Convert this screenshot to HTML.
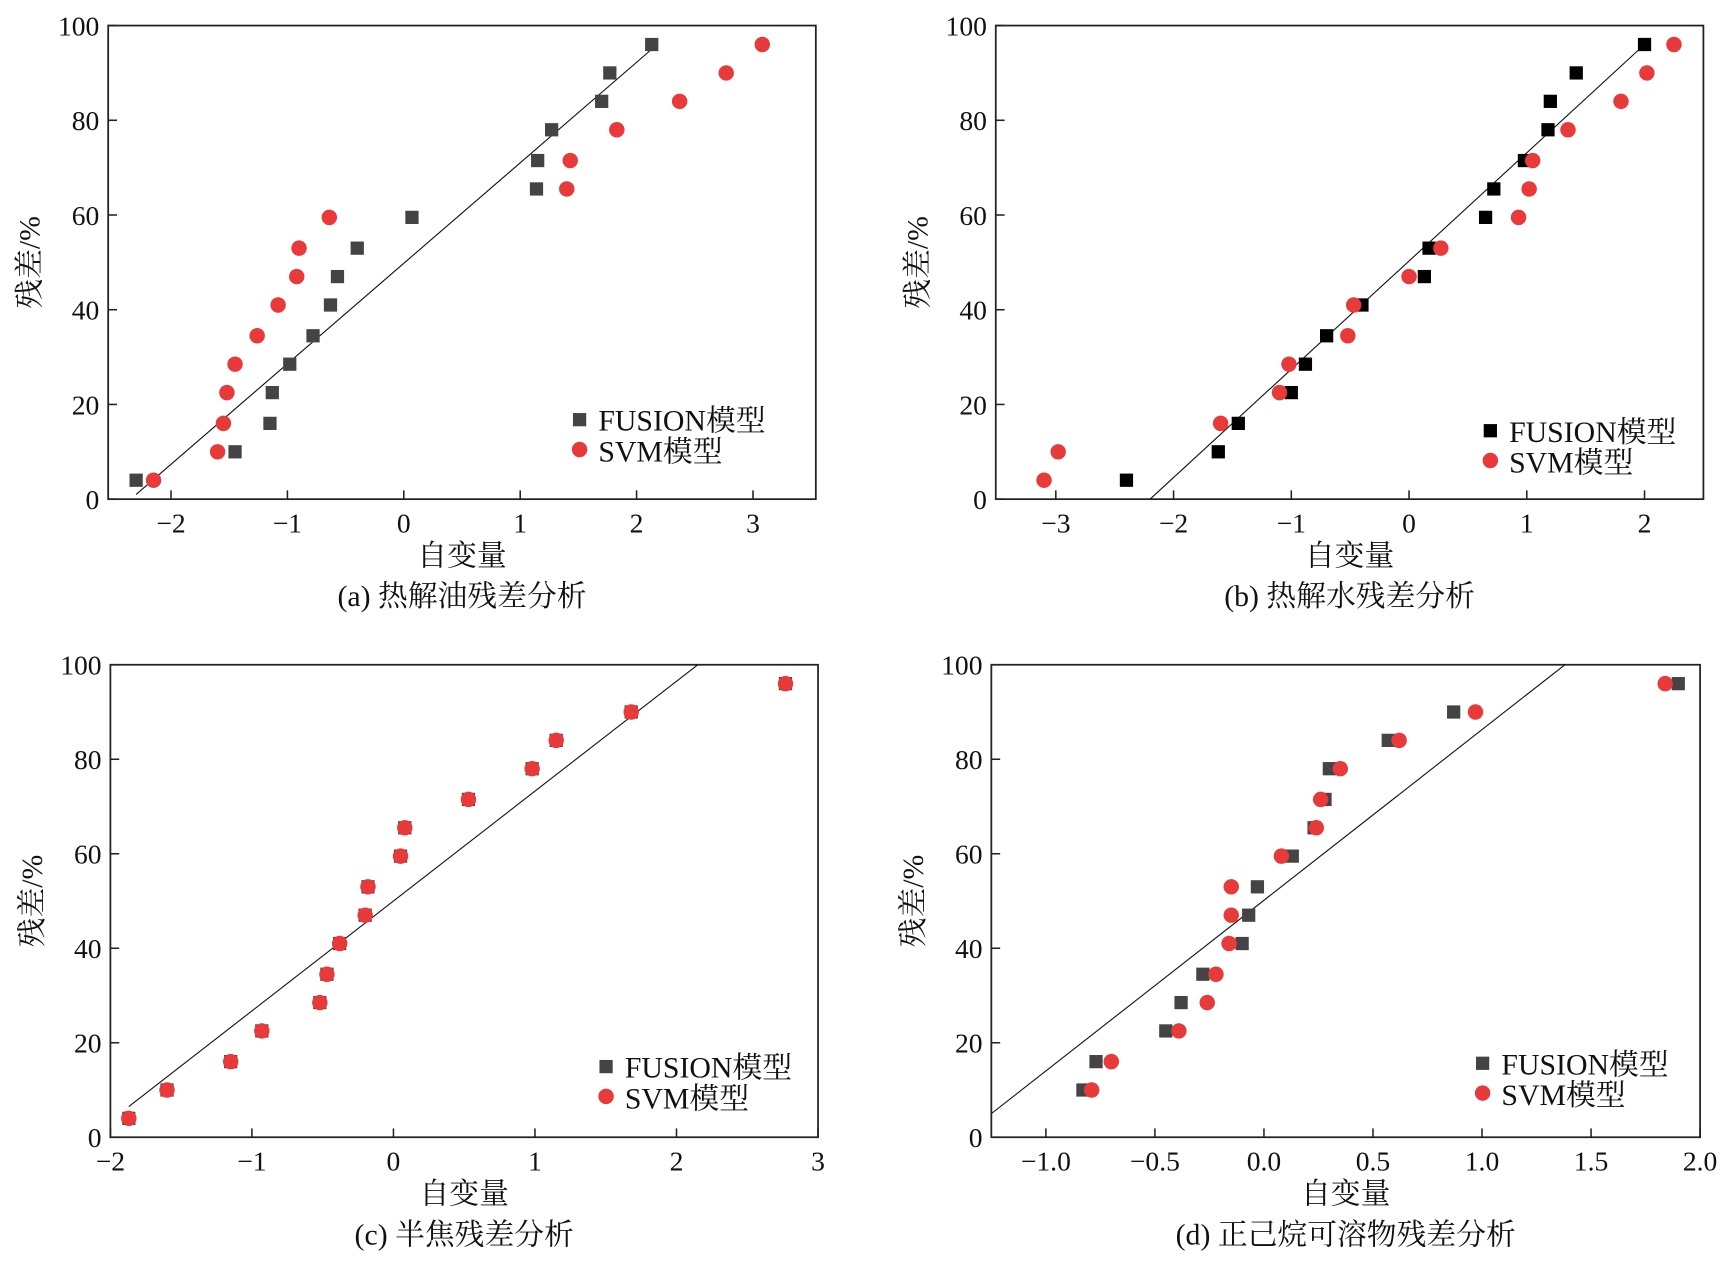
<!DOCTYPE html>
<html><head><meta charset="utf-8">
<style>
html,body{margin:0;padding:0;background:#fff;}
svg{display:block;}
svg text{font-family:"Liberation Serif","Noto Serif CJK SC","Noto Sans CJK SC",serif !important;fill:#111;}
</style></head>
<body>
<svg id="chart" width="1731" height="1271" viewBox="0 0 1568 1151" xmlns="http://www.w3.org/2000/svg"></svg>
<script>
// ---- Panel (a) data ----
const aSqX = [-2.3,-1.45,-1.15,-1.13,-0.98,-0.78,-0.63,-0.57,-0.4,0.07,1.14,1.15,1.27,1.7,1.77,2.13];
const aSqY = [4,10,16,22.5,28.5,34.5,41,47,53,59.5,65.5,71.5,78,84,90,96];
const aCiX = [-2.15,-1.6,-1.55,-1.52,-1.45,-1.26,-1.08,-0.92,-0.9,-0.64,1.4,1.43,1.83,2.37,2.77,3.08];
const aCiY = [4,10,16,22.5,28.5,34.5,41,47,53,59.5,65.5,71.5,78,84,90,96];
const aLineX = [-2.3,2.13];
const aLineY = [1,95];
const aTicks = [-2,-1,0,1,2,3];
// ---- Panel (b) data ----
const bSqX = [-2.4,-1.62,-1.45,-1.0,-0.88,-0.7,-0.4,0.13,0.17,0.65,0.72,0.98,1.18,1.2,1.42,2.0];
const bSqY = [4,10,16,22.5,28.5,34.5,41,47,53,59.5,65.5,71.5,78,84,90,96];
const bCiX = [-3.1,-2.98,-1.6,-1.1,-1.02,-0.52,-0.47,0,0.27,0.93,1.02,1.05,1.35,1.8,2.02,2.25];
const bCiY = [4,10,16,22.5,28.5,34.5,41,47,53,59.5,65.5,71.5,78,84,90,96];
const bLineX = [-2.2,2.0];
const bLineY = [0,96];
const bTicks = [-3,-2,-1,0,1,2];
// ---- Panel (c) data ----
const cSqX = [-1.87,-1.6,-1.15,-0.93,-0.52,-0.47,-0.38,-0.2,-0.18,0.05,0.08,0.53,0.98,1.15,1.68,2.77];
const cSqY = [4,10,16,22.5,28.5,34.5,41,47,53,59.5,65.5,71.5,78,84,90,96];
const cCiX = [-1.87,-1.6,-1.15,-0.93,-0.52,-0.47,-0.38,-0.2,-0.18,0.05,0.08,0.53,0.98,1.15,1.68,2.77];
const cCiY = [4,10,16,22.5,28.5,34.5,41,47,53,59.5,65.5,71.5,78,84,90,96];
const cLineX = [-1.87,2.15];
const cLineY = [6.5,100];
const cTicks = [-2,-1,0,1,2,3];
// ---- Panel (d) data ----
const dSqX = [-0.83,-0.77,-0.45,-0.38,-0.28,-0.1,-0.07,-0.03,0.13,0.23,0.28,0.3,0.57,0.87,1.9];
const dSqY = [10,16,22.5,28.5,34.5,41,47,53,59.5,65.5,71.5,78,84,90,96];
const dCiX = [-0.79,-0.7,-0.39,-0.26,-0.22,-0.16,-0.15,-0.15,0.08,0.24,0.26,0.35,0.62,0.97,1.84];
const dCiY = [10,16,22.5,28.5,34.5,41,47,53,59.5,65.5,71.5,78,84,90,96];
const dLineX = [-1.25,1.38];
const dLineY = [5,100];
const dTicks = [-1.0,-0.5,0.0,0.5,1.0,1.5,2.0];
const dTickLabels = ["\u22121.0","\u22120.5","0.0","0.5","1.0","1.5","2.0"];
const yTicks = [0,20,40,60,80,100];

const NS = "http://www.w3.org/2000/svg";
const FONT = '"Liberation Serif","Noto Serif CJK SC","Noto Sans CJK SC",serif';
const svg = document.getElementById('chart');
function mk(tag, attrs, parent){
  const e = document.createElementNS(NS, tag);
  for (const k in attrs) e.setAttribute(k, attrs[k]);
  if (tag === 'text') e.setAttribute('font-family', FONT);
  (parent||svg).appendChild(e);
  return e;
}
function fmt(v){ return v<0 ? "\u2212"+(-v) : ""+v; }

function panel(id, L, T, R, B, xmin, xmax, xt, xtl, sqX, sqY, ciX, ciY, lx, ly, sqColor, legX, legY, caption){
  const g = mk('g', {});
  
  
  const sx = v => L + (v - xmin) / (xmax - xmin) * (R - L);
  const sy = v => B - v / 100 * (B - T);
  const frame = mk('rect', {x:L, y:T, width:R-L, height:B-T, fill:'none', stroke:'#222', 'stroke-width':1.6}, g);
  
  
  xt.forEach((t,i) => {
    const x = sx(t);
    const tk = mk('line', {x1:x, x2:x, y1:B, y2:B-8, stroke:'#222', 'stroke-width':1.4}, g);
    
    
    const lb = mk('text', {x:x, y:B+30, 'font-size':25, 'text-anchor':'middle'}, g);
    lb.textContent = xtl ? xtl[i] : fmt(t);
    
    
  });
  yTicks.forEach(t => {
    const y = sy(t);
    const tk = mk('line', {x1:L, x2:L+8, y1:y, y2:y, stroke:'#222', 'stroke-width':1.4}, g);
    
    
    const lb = mk('text', {x:L-8, y:y+9, 'font-size':25, 'text-anchor':'end'}, g);
    lb.textContent = t;
    
    
  });
  const ln = mk('line', {x1:sx(lx[0]), y1:sy(ly[0]), x2:sx(lx[1]), y2:sy(ly[1]), stroke:'#111', 'stroke-width':1}, g);
  
  
  sqX.forEach((v,i) => {
    const r = mk('rect', {x:sx(v)-6, y:sy(sqY[i])-6, width:12, height:12, fill:sqColor}, g);
    
    
  });
  ciX.forEach((v,i) => {
    const c = mk('circle', {cx:sx(v), cy:sy(ciY[i]), r:7, fill:'#e8393b'}, g);
    
    
  });
  const lg = mk('g', {}, g);
  
  
  const ls = mk('rect', {x:legX-6, y:legY-6, width:12, height:12, fill:sqColor}, lg);
  
  
  const lt1 = mk('text', {x:legX+17, y:legY+10, 'font-size':27}, lg);
  lt1.textContent = 'FUSION模型';
  
  
  const lc = mk('circle', {cx:legX, cy:legY+27, r:7, fill:'#e8393b'}, lg);
  
  
  const lt2 = mk('text', {x:legX+17, y:legY+38, 'font-size':27}, lg);
  lt2.textContent = 'SVM模型';
  
  
  const xtT = mk('text', {x:(L+R)/2, y:B+60, 'font-size':27, 'text-anchor':'middle'}, g);
  xtT.textContent = '自变量';
  
  
  const ytT = mk('text', {x:0, y:0, 'font-size':27, 'text-anchor':'middle', transform:'translate('+(L-62)+','+((T+B)/2)+') rotate(-90)'}, g);
  ytT.textContent = '残差/%';
  
  
  const cap = mk('text', {x:(L+R)/2, y:B+97, 'font-size':27, 'text-anchor':'middle'}, g);
  cap.textContent = caption;
  
  
}

panel('a', 98, 23, 739, 452, -2.54, 3.54, aTicks, null, aSqX, aSqY, aCiX, aCiY, aLineX, aLineY, '#444', 525, 380, '(a) 热解油残差分析');
panel('b', 902, 23, 1543, 452, -3.51, 2.5, bTicks, null, bSqX, bSqY, bCiX, bCiY, bLineX, bLineY, '#000', 1350, 390, '(b) 热解水残差分析');
panel('c', 100, 602, 741, 1030, -2, 3, cTicks, null, cSqX, cSqY, cCiX, cCiY, cLineX, cLineY, '#444', 549, 966, '(c) 半焦残差分析');
panel('d', 898, 602, 1540, 1030, -1.25, 2.0, dTicks, dTickLabels, dSqX, dSqY, dCiX, dCiY, dLineX, dLineY, '#444', 1343, 963, '(d) 正己烷可溶物残差分析');
</script>
</body></html>
